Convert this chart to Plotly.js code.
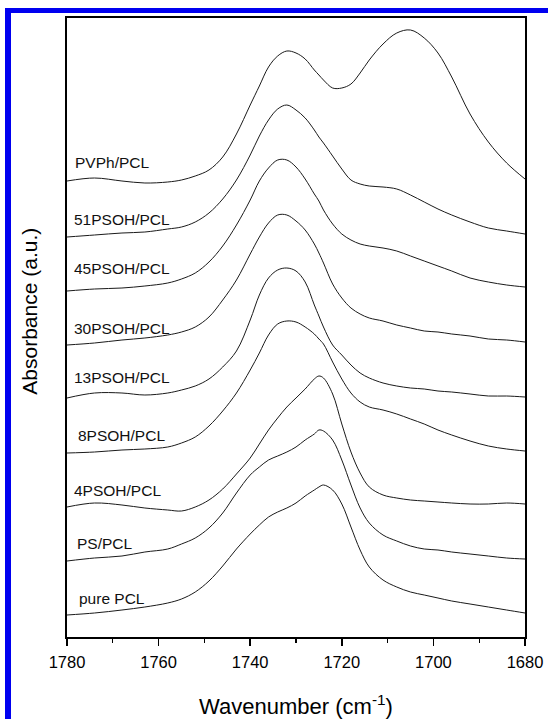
<!DOCTYPE html>
<html>
<head>
<meta charset="utf-8">
<script src="https://cdn.plot.ly/plotly-3.0.1.min.js"></script>
<style>
  html, body { margin: 0; padding: 0; background: #ffffff; }
  #wrap { position: relative; width: 548px; height: 719px; overflow: hidden; background: #ffffff; }
  #frame { position: absolute; left: 5px; top: 8px; width: 540px; height: 720px;
           border-left: 6px solid #0000f0; border-top: 5px solid #0000f0; border-right: 1px solid #3030e0; }
  #chart { position: absolute; left: 0; top: 0; width: 548px; height: 719px; }
</style>
</head>
<body>
<div id="wrap">
  <div id="frame"></div>
  <div id="chart"></div>
</div>
<script>
// Labels of the spectra (top to bottom)
const seriesNames = ["PVPh/PCL", "51PSOH/PCL", "45PSOH/PCL", "30PSOH/PCL", "13PSOH/PCL",
                     "8PSOH/PCL", "4PSOH/PCL", "PS/PCL", "pure PCL"];

// Shared wavenumber grid (cm-1)
const wavenumber = [1780, 1774, 1768, 1763, 1758, 1755, 1752, 1749, 1746, 1743, 1740, 1738, 1736, 1734,
                    1732, 1730, 1728, 1726, 1725, 1724, 1722, 1720, 1718, 1716, 1714, 1711, 1708, 1705,
                    1702, 1699, 1696, 1692, 1688, 1684, 1680];

// Offset absorbance (a.u.) of each spectrum
const absPVPh = [456, 459, 456, 454, 455, 457, 461, 467, 480, 503, 532, 551, 570, 581, 586, 584, 578, 567, 562, 557, 549, 549, 553, 564, 577, 593, 604, 607, 599, 584, 560, 523, 495, 474, 458];
const abs51   = [400, 402, 404, 405, 408, 410, 415, 424, 438, 457, 482, 501, 517, 528, 532, 527, 519, 507, 500, 494, 481, 468, 457, 453, 451, 450, 448, 442, 435, 428, 422, 415, 409, 406, 403];
const abs45   = [346, 348, 349, 351, 354, 358, 364, 375, 391, 412, 437, 456, 469, 477, 477, 470, 458, 443, 436, 427, 413, 403, 397, 393, 391, 389, 386, 381, 376, 371, 366, 359, 355, 352, 350];
const abs30   = [292, 294, 297, 299, 302, 305, 310, 320, 337, 357, 383, 400, 414, 422, 422, 416, 407, 393, 384, 374, 353, 339, 329, 323, 319, 316, 312, 309, 306, 305, 303, 301, 298, 297, 295];
const abs13   = [239, 244, 244, 242, 244, 247, 251, 258, 270, 286, 317, 342, 359, 367, 369, 366, 355, 332, 321, 310, 292, 282, 272, 264, 259, 254, 251, 249, 248, 246, 245, 243, 241, 241, 240];
const abs8    = [184, 185, 187, 188, 190, 194, 200, 211, 226, 244, 267, 284, 302, 313, 316, 315, 310, 303, 298, 293, 275, 258, 244, 235, 230, 227, 223, 218, 213, 207, 202, 196, 191, 188, 186];
const abs4    = [130, 134, 132, 129, 127, 126, 130, 137, 148, 163, 179, 193, 207, 219, 230, 239, 248, 258, 261, 259, 243, 213, 185, 164, 150, 142, 139, 137, 136, 135, 134, 133, 133, 134, 133];
const absPS   = [76, 79, 81, 85, 88, 93, 99, 109, 124, 144, 162, 170, 177, 181, 185, 190, 197, 203, 207, 206, 197, 177, 152, 129, 114, 102, 96, 91, 88, 87, 85, 83, 81, 79, 78];
const absPCL  = [22, 24, 27, 30, 34, 38, 45, 56, 71, 88, 103, 112, 120, 125, 129, 134, 141, 147, 150, 152, 147, 133, 110, 87, 70, 57, 50, 45, 42, 39, 36, 33, 30, 27, 24];

// Label anchor positions (wavenumber, absorbance)
const labelWn  = [1778.6, 1778.9, 1778.9, 1778.9, 1778.9, 1778.0, 1778.9, 1778.3, 1777.8];
const labelAbs = [475, 418, 369, 309, 260, 202, 147, 94, 39];

const ys = [absPVPh, abs51, abs45, abs30, abs13, abs8, abs4, absPS, absPCL];

const FONT = '"Liberation Sans", Arial, Helvetica, sans-serif';

const traces = ys.map((y, i) => ({
  type: 'scatter', mode: 'lines', x: wavenumber, y: y, name: seriesNames[i],
  line: { color: '#1a1a1a', width: 1, shape: 'spline', smoothing: 1 },
  hoverinfo: 'skip'
}));

const annotations = seriesNames.map((t, i) => ({
  x: labelWn[i], y: labelAbs[i], xref: 'x', yref: 'y', text: t, showarrow: false,
  xanchor: 'left', yanchor: 'middle', font: { family: FONT, size: 15.5, color: '#111' }
}));

// y-axis title placed as a rotated annotation so its position can match the figure
annotations.push({
  x: -0.081, y: 0.527, xref: 'paper', yref: 'paper', text: 'Absorbance (a.u.)', textangle: -90,
  showarrow: false, xanchor: 'center', yanchor: 'middle', font: { family: FONT, size: 21, color: '#000' }
});

const layout = {
  width: 548, height: 719,
  margin: { l: 67, r: 23, t: 18, b: 82 },
  paper_bgcolor: 'rgba(0,0,0,0)', plot_bgcolor: '#ffffff',
  showlegend: false,
  font: { family: FONT, color: '#000' },
  xaxis: {
    range: [1780, 1680], showgrid: false, zeroline: false,
    showline: true, linecolor: '#000', linewidth: 1.6, mirror: true,
    ticks: 'outside', tickcolor: '#000', ticklen: 7, tickwidth: 1.5, dtick: 20, tick0: 1680,
    ticklabelstandoff: 3,
    minor: { ticks: 'outside', dtick: 10, ticklen: 4, tickwidth: 1.2, tickcolor: '#000' },
    tickfont: { family: FONT, size: 16.5, color: '#000' },
    title: { text: 'Wavenumber (cm<sup>-1</sup>)', font: { family: FONT, size: 22, color: '#000' }, standoff: 31 }
  },
  yaxis: {
    range: [0, 619], showgrid: false, zeroline: false,
    showline: true, linecolor: '#000', linewidth: 1.6, mirror: true,
    ticks: '', showticklabels: false
  },
  annotations: annotations
};

Plotly.newPlot('chart', traces, layout, { staticPlot: true, displayModeBar: false });
</script>
</body>
</html>
